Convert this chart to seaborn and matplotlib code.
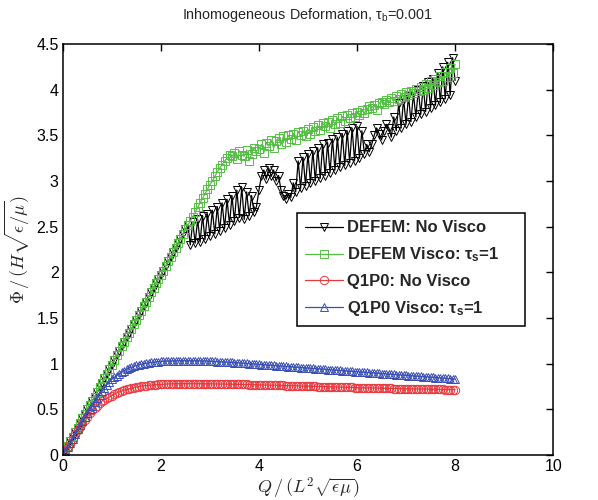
import numpy as np
import pandas as pd
import matplotlib
matplotlib.use("Agg")
import matplotlib.pyplot as plt
import seaborn as sns

# ---------------- data ----------------
x_grid = np.round(np.arange(0, 161) * 0.05, 2)

defem_visco = [
    0.00, 0.05, 0.10, 0.15, 0.20, 0.25, 0.30, 0.35, 0.40, 0.45,
    0.50, 0.55, 0.59, 0.64, 0.69, 0.74, 0.79, 0.84, 0.89, 0.94,
    0.99, 1.04, 1.09, 1.14, 1.19, 1.24, 1.29, 1.34, 1.38, 1.43,
    1.48, 1.53, 1.58, 1.63, 1.68, 1.73, 1.78, 1.83, 1.88, 1.93,
    1.97, 2.02, 2.07, 2.12, 2.17, 2.22, 2.27, 2.32, 2.37, 2.42,
    2.47, 2.52, 2.56, 2.61, 2.66, 2.71, 2.76, 2.81, 2.86, 2.91,
    2.96, 3.00, 3.05, 3.10, 3.14, 3.18, 3.22,
    3.25, 3.28, 3.27, 3.31, 3.24, 3.33, 3.29, 3.27, 3.34, 3.22, 3.30, 3.36, 3.33,
    3.35, 3.40, 3.31, 3.42, 3.38, 3.45, 3.36, 3.44, 3.47, 3.40,
    3.49, 3.43, 3.50, 3.46, 3.52, 3.45, 3.54, 3.50, 3.55, 3.49,
    3.57, 3.52, 3.59, 3.55, 3.61, 3.56, 3.63, 3.60, 3.65, 3.58,
    3.67, 3.62, 3.69, 3.64, 3.71, 3.66, 3.72, 3.69, 3.74, 3.70,
    3.76, 3.72, 3.78, 3.74, 3.79, 3.82, 3.80, 3.83, 3.78, 3.85,
    3.87, 3.84, 3.89, 3.86, 3.91, 3.88, 3.93, 3.90, 3.95, 3.92,
    3.97, 3.94, 3.99, 3.96, 4.01, 3.98, 4.03, 4.00, 4.06, 4.02,
    4.09, 4.05, 4.12, 4.08, 4.15, 4.10, 4.19, 4.14, 4.24, 4.18,
    4.28,
]

defem_novisco = [
    0.00, 0.05, 0.10, 0.15, 0.20, 0.25, 0.30, 0.35, 0.40, 0.45,
    0.50, 0.55, 0.59, 0.64, 0.69, 0.74, 0.79, 0.84, 0.89, 0.94,
    0.99, 1.04, 1.09, 1.14, 1.19, 1.24, 1.29, 1.34, 1.38, 1.43,
    1.48, 1.53, 1.58, 1.63, 1.68, 1.73, 1.78, 1.83, 1.88, 1.93,
    1.97, 2.02, 2.07, 2.12, 2.17, 2.22, 2.27, 2.32, 2.37, 2.42,
    2.47, 2.52,
    2.30, 2.55, 2.32, 2.58, 2.33, 2.62, 2.36, 2.64, 2.40, 2.68,
    2.42, 2.72, 2.45, 2.76, 2.48, 2.80, 2.52, 2.84, 2.56, 2.90,
    2.60, 2.93, 2.58, 2.88, 2.62, 2.84, 2.66, 2.72,
    2.90, 3.05, 3.12, 3.02, 3.14, 3.05, 3.12, 3.00, 3.06, 2.90,
    2.84, 2.80, 2.86, 2.82, 2.98, 2.88,
    3.22, 2.92, 3.26, 2.95, 3.30, 2.98, 3.33, 3.00, 3.36, 3.03,
    3.40, 3.06, 3.42, 3.09, 3.46, 3.12, 3.48, 3.15, 3.52, 3.17,
    3.55, 3.20, 3.58, 3.22, 3.60, 3.25, 3.55, 3.30, 3.40,
    3.32, 3.40, 3.50, 3.58, 3.52, 3.45, 3.55, 3.62, 3.58, 3.48, 3.70,
    3.55, 3.85, 3.58, 3.90, 3.62, 3.93, 3.65, 3.96, 3.70, 4.00,
    3.73, 4.04, 3.76, 4.08, 3.80, 4.12, 3.83, 4.18, 3.86, 4.25,
    3.90, 4.30, 3.94, 4.35, 4.10,
]

q1p0_novisco = [
    0.00, 0.045, 0.09, 0.135, 0.18, 0.225, 0.27, 0.31, 0.35, 0.385,
    0.42, 0.455, 0.49, 0.515, 0.54, 0.565, 0.59, 0.605, 0.62, 0.635,
    0.65, 0.665, 0.68, 0.69, 0.70, 0.71, 0.72, 0.725, 0.73, 0.738,
    0.745, 0.75, 0.755, 0.758, 0.76, 0.763, 0.765, 0.768, 0.77, 0.772,
    0.774, 0.776, 0.777, 0.778, 0.779, 0.78, 0.78, 0.781, 0.781, 0.781,
    0.781, 0.781, 0.781, 0.781, 0.781, 0.781, 0.78, 0.78, 0.78, 0.78,
    0.779, 0.779, 0.778, 0.778, 0.777, 0.777, 0.776, 0.776, 0.775, 0.775,
    0.774, 0.774, 0.773, 0.773, 0.772, 0.772, 0.771, 0.771, 0.77, 0.769,
    0.768, 0.768, 0.767, 0.766, 0.765, 0.765, 0.764, 0.763, 0.762, 0.762,
    0.761, 0.76, 0.759, 0.759, 0.758, 0.757, 0.756, 0.756, 0.755, 0.754,
    0.753, 0.753, 0.752, 0.751, 0.75, 0.75, 0.749, 0.748, 0.747, 0.747,
    0.746, 0.745, 0.744, 0.744, 0.743, 0.742, 0.741, 0.741, 0.74, 0.739,
    0.738, 0.738, 0.737, 0.736, 0.735, 0.735, 0.734, 0.734, 0.733, 0.732,
    0.731, 0.731, 0.73, 0.73, 0.729, 0.728, 0.727, 0.727, 0.726, 0.726,
    0.725, 0.725, 0.724, 0.724, 0.723, 0.723, 0.722, 0.722, 0.721, 0.721,
    0.72, 0.72, 0.719, 0.719, 0.718, 0.718, 0.717, 0.717, 0.716, 0.716,
    0.715,
]

q1p0_visco = [
    0.00, 0.045, 0.09, 0.135, 0.18, 0.23, 0.28, 0.325, 0.37, 0.415,
    0.46, 0.50, 0.54, 0.58, 0.62, 0.66, 0.70, 0.735, 0.77, 0.80,
    0.83, 0.85, 0.87, 0.89, 0.91, 0.925, 0.94, 0.95, 0.96, 0.97,
    0.98, 0.988, 0.995, 1.0, 1.005, 1.009, 1.013, 1.017, 1.02, 1.023,
    1.025, 1.027, 1.028, 1.029, 1.03, 1.031, 1.032, 1.032, 1.033, 1.033,
    1.033, 1.033, 1.032, 1.032, 1.032, 1.031, 1.031, 1.03, 1.03, 1.029,
    1.026, 1.025, 1.024, 1.022, 1.021, 1.02, 1.018, 1.016, 1.015, 1.013,
    1.012, 1.01, 1.008, 1.006, 1.004, 1.002, 1.0, 0.998, 0.996, 0.994,
    0.992, 0.99, 0.988, 0.986, 0.984, 0.982, 0.98, 0.978, 0.976, 0.974,
    0.972, 0.97, 0.968, 0.966, 0.964, 0.962, 0.96, 0.958, 0.956, 0.954,
    0.952, 0.95, 0.948, 0.946, 0.944, 0.942, 0.94, 0.938, 0.936, 0.934,
    0.932, 0.93, 0.928, 0.926, 0.924, 0.922, 0.92, 0.918, 0.916, 0.914,
    0.912, 0.91, 0.908, 0.906, 0.904, 0.902, 0.90, 0.898, 0.896, 0.894,
    0.892, 0.89, 0.888, 0.886, 0.884, 0.882, 0.88, 0.878, 0.876, 0.874,
    0.872, 0.87, 0.868, 0.866, 0.864, 0.862, 0.86, 0.858, 0.856, 0.854,
    0.852, 0.85, 0.848, 0.846, 0.844, 0.842, 0.84, 0.838, 0.836, 0.834,
    0.83,
]

labels = [
    "DEFEM: No Visco",
    "DEFEM Visco: τ$_\\mathbf{s}$=1",
    "Q1P0: No Visco",
    "Q1P0 Visco: τ$_\\mathbf{s}$=1",
]
x_ticks = [0, 2, 4, 6, 8, 10]
y_ticks = [0, 0.5, 1, 1.5, 2, 2.5, 3, 3.5, 4, 4.5]
y_tick_labels = ["0", "0.5", "1", "1.5", "2", "2.5", "3", "3.5", "4", "4.5"]
title = "Inhomogeneous Deformation, τ$_\\mathrm{b}$=0.001"

# ---------------- style ----------------
sns.set_style("white")
plt.rcParams["font.family"] = ["Liberation Sans", "DejaVu Sans"]
plt.rcParams["mathtext.fontset"] = "custom"
plt.rcParams["mathtext.rm"] = "Liberation Sans"
plt.rcParams["mathtext.it"] = "Liberation Sans:italic"
plt.rcParams["mathtext.bf"] = "Liberation Sans:bold"

fig = plt.figure(figsize=(5.98, 5.0), dpi=100)
ax = fig.add_axes([0.105, 0.09, 0.82, 0.822])

series = [
    (defem_novisco, "black", "v", 6.0, labels[0]),
    (defem_visco, "#55bf45", "s", 5.5, labels[1]),
    (q1p0_novisco, "#e8383d", "o", 6.0, labels[2]),
    (q1p0_visco, "#3a4fb5", "^", 6.0, labels[3]),
]
for ys, col, mk, ms, lab in series:
    df = pd.DataFrame({"x": x_grid, "y": ys})
    sns.lineplot(data=df, x="x", y="y", ax=ax, color=col, marker=mk,
                 markersize=ms, markerfacecolor="none", markeredgecolor=col,
                 markeredgewidth=0.7, linewidth=0.9, label=lab,
                 errorbar=None, sort=False)

ax.set_xlim(0, 10)
ax.set_ylim(0, 4.5)
ax.set_xticks(x_ticks)
ax.set_xticklabels([str(t) for t in x_ticks])
ax.set_yticks(y_ticks)
ax.set_yticklabels(y_tick_labels)
ax.tick_params(axis="both", which="both", direction="in", length=5, width=1,
               top=True, right=True, labelsize=11.5, colors="black", pad=3)
for sp in ax.spines.values():
    sp.set_visible(True)
    sp.set_color("black")
    sp.set_linewidth(1.1)

ax.set_xlabel(r"$Q\,/\,(L^2\sqrt{\epsilon\mu})$", fontsize=13,
              math_fontfamily="cm", labelpad=1)
ax.set_ylabel(r"$\Phi\,/\,(H\sqrt{\epsilon/\mu})$", fontsize=13,
              math_fontfamily="cm", labelpad=3)
ax.set_title(title, fontsize=10.4, pad=18)

leg_w = 228 / 490
leg_h = 114 / 411
leg = ax.legend(loc="upper left",
                bbox_to_anchor=(0.478, 0.589 - leg_h, leg_w, leg_h),
                mode="expand",
                frameon=True, fancybox=False, edgecolor="black",
                prop={"weight": "bold", "size": 12}, handlelength=2.3,
                handletextpad=0.25, labelspacing=0.6, borderpad=0.45,
                numpoints=1, borderaxespad=0)
leg.get_frame().set_linewidth(1.1)
leg.get_frame().set_alpha(1)

fig.savefig("out.png", dpi=100)
